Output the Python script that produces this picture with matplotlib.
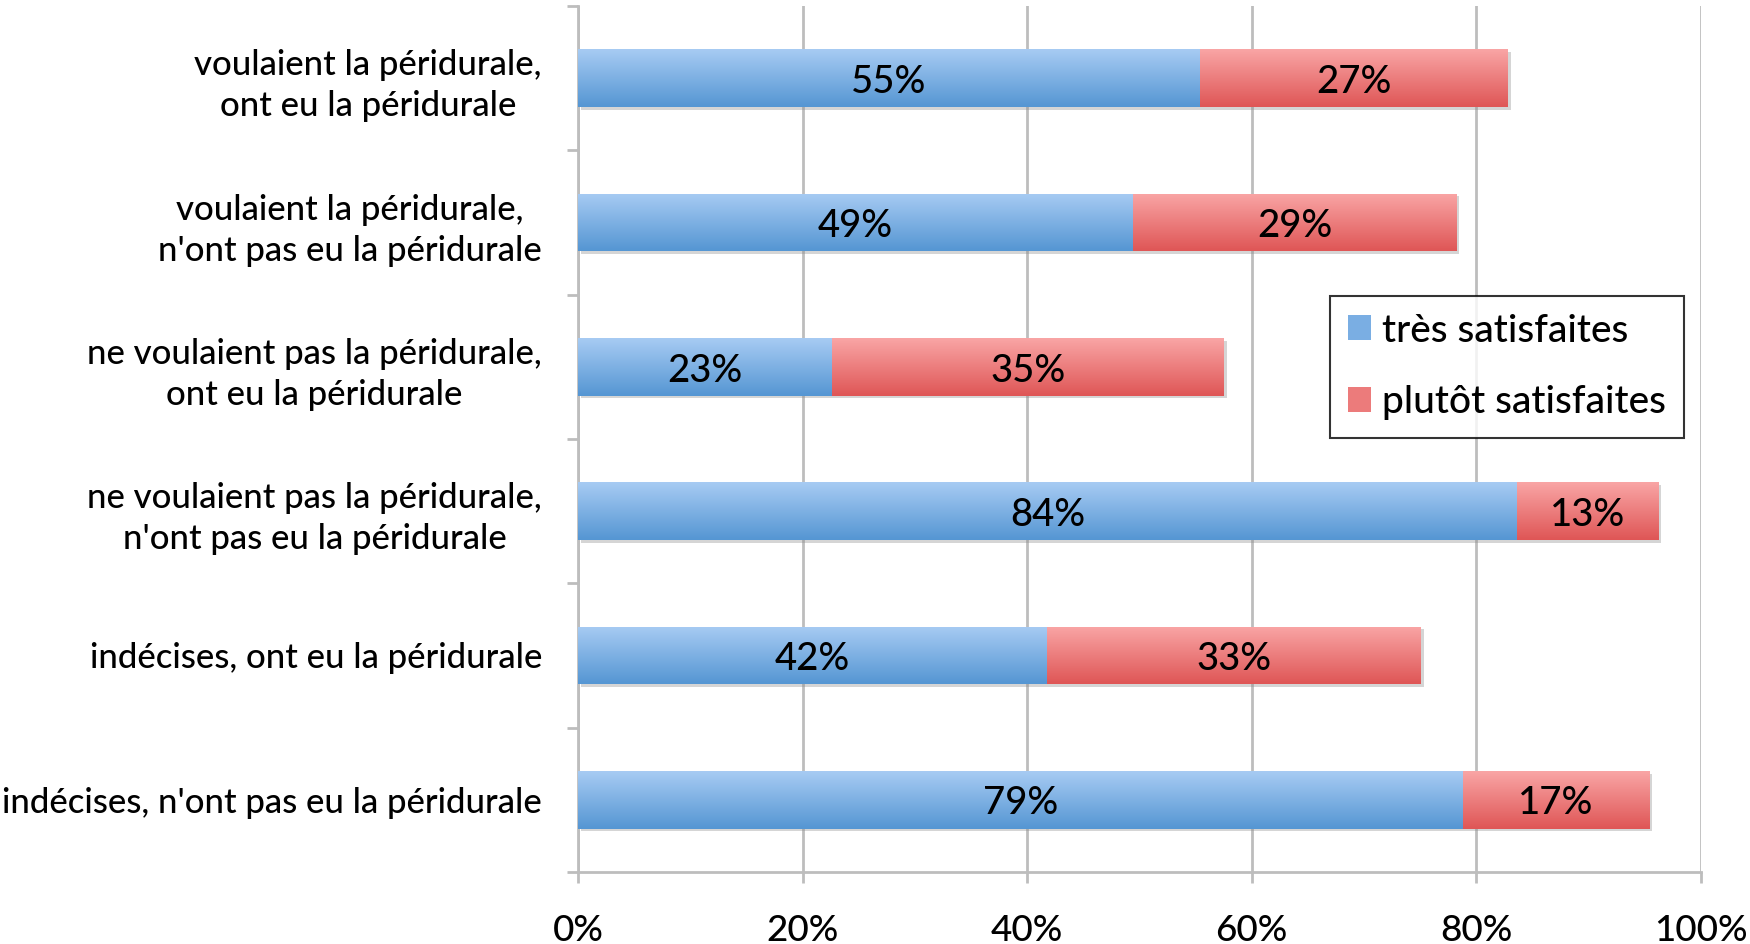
import numpy as np
import matplotlib
matplotlib.use('Agg')
import matplotlib.pyplot as plt
from matplotlib.colors import LinearSegmentedColormap
from matplotlib.patches import Patch
import matplotlib.patheffects as pe

plt.rcParams['font.family'] = ['Lato', 'DejaVu Sans']
plt.rcParams['font.weight'] = 'medium'

# data (top to bottom)
categories = [
    "voulaient la péridurale,\nont eu la péridurale",
    "voulaient la péridurale,\nn'ont pas eu la péridurale",
    "ne voulaient pas la péridurale,\nont eu la péridurale",
    "ne voulaient pas la péridurale,\nn'ont pas eu la péridurale",
    "indécises, ont eu la péridurale",
    "indécises, n'ont pas eu la péridurale",
]
tres_satisfaites = [55.4, 49.4, 22.6, 83.6, 41.8, 78.8]
plutot_satisfaites = [27.4, 28.8, 34.9, 12.6, 33.3, 16.6]
series_names = ["très satisfaites", "plutôt satisfaites"]
xticks = [0, 20, 40, 60, 80, 100]

blue_cm = LinearSegmentedColormap.from_list('b', ['#a7cbf3', '#5596d3'])
red_cm = LinearSegmentedColormap.from_list('r', ['#f9a5a5', '#df5656'])
FS = 25
grid_col = '#bdbdbd'

fig = plt.figure(figsize=(17.5, 9.44), dpi=100)
ax = fig.add_axes([578/1750, 1-872/944, (1701-578)/1750, (872-6)/944])

y = np.arange(len(categories))
h = 0.4

b1 = ax.barh(y, tres_satisfaites, height=h, color='#7aaee3', zorder=2)
b2 = ax.barh(y, plutot_satisfaites, left=tres_satisfaites, height=h, color='#ec7b7b', zorder=2)

grad = np.linspace(0, 1, 100).reshape(-1, 1)
for bars, cm in ((b1, blue_cm), (b2, red_cm)):
    for p in bars:
        p.set_path_effects([pe.SimplePatchShadow(offset=(2, -2), shadow_rgbFace='#888888', alpha=0.35), pe.Normal()])
        x0, y0 = p.get_x(), p.get_y()
        im = ax.imshow(grad, cmap=cm, aspect='auto', origin='upper',
                       extent=(x0, x0 + p.get_width(), y0 + p.get_height(), y0),
                       zorder=3)
        im.set_clip_path(p)

for i in range(len(categories)):
    a, b = tres_satisfaites[i], plutot_satisfaites[i]
    ax.annotate(f"{a:.0f}%", (a / 2, y[i]), xytext=(0, -3), textcoords='offset points',
                ha='center', va='center', fontsize=27.5, zorder=5)
    ax.annotate(f"{b:.0f}%", (a + b / 2, y[i]), xytext=(0, -3), textcoords='offset points',
                ha='center', va='center', fontsize=27.5, zorder=5)

ax.set_xlim(0, 100)
ax.set_ylim(len(categories) - 0.5, -0.5)
ax.set_xticks(xticks)
ax.set_xticklabels([f"{t}%" for t in xticks], fontsize=26.5)
ax.set_yticks(y)
ax.set_yticklabels(categories, fontsize=FS, multialignment='center', linespacing=1.35)
ax.set_yticks(np.arange(-0.5, len(categories), 1), minor=True)
ax.tick_params(axis='y', which='major', length=0, pad=26)
ax.tick_params(axis='y', which='minor', length=8, width=2, color=grid_col)
ax.tick_params(axis='x', length=8, width=2, color=grid_col, pad=22)

ax.grid(axis='x', color=grid_col, linewidth=2)
ax.set_axisbelow(True)
for s in ('top', 'right'):
    ax.spines[s].set_visible(False)
for s in ('left', 'bottom'):
    ax.spines[s].set_color(grid_col)
    ax.spines[s].set_linewidth(2)

handles = [Patch(facecolor='#7aaee3'), Patch(facecolor='#ec7b7b')]
leg = fig.legend(handles, series_names, loc='upper left',
                 bbox_to_anchor=(1330/1750, 1-296/944), fontsize=28,
                 frameon=True, fancybox=False, edgecolor='black',
                 handlelength=0.6, handleheight=0.6, handletextpad=0.3,
                 labelspacing=0.95, borderpad=0.45, borderaxespad=0)
leg.get_frame().set_linewidth(1.5)

fig.savefig('out.png', dpi=100)
